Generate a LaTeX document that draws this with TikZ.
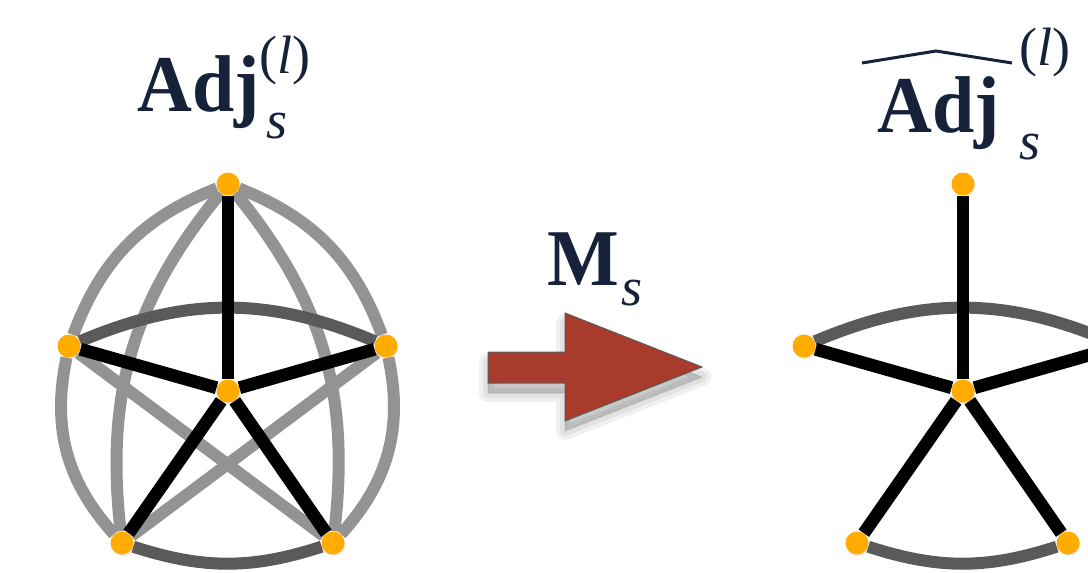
\documentclass[tikz,border=0pt]{standalone}
\usepackage{fontspec}
\setmainfont{Liberation Serif}
\usepackage{xcolor}
\definecolor{vertex}{HTML}{FFAB00}
\definecolor{lightedge}{HTML}{939393}
\definecolor{darkedge}{HTML}{5A5A5A}
\definecolor{navy}{HTML}{16213A}
\definecolor{maskred}{HTML}{A93B2C}
\usepackage{tikz}
\usetikzlibrary{shadows, backgrounds}
\newcommand{\scr}[1]{{\fontsize{27}{27}\selectfont #1}}
\newcommand{\tallbf}[1]{\scalebox{1}[1.06]{\textbf{#1}}}

\begin{document}
\begin{tikzpicture}[x=0.5pt, y=-0.5pt,
      vtx/.style={circle, fill=vertex, minimum size=11.5pt, inner sep=0pt,
                  drop shadow={opacity=0.18, shadow xshift=0.5pt, shadow yshift=-0.8pt}},
      spoke/.style={draw=black, line width=6.4pt},
      outer/.style={draw=lightedge, line width=6pt},
      rim/.style={draw=darkedge, line width=6pt},
      lbl/.style={text=navy, font=\fontsize{38}{40}\selectfont, inner sep=0pt, anchor=base west},
      maskpath/.style={insert path={(488,352) -- (565,352) -- (565,313) -- (702,367) -- (565,421) -- (565,383) -- (488,383) -- cycle}},
      haze/.style={fill=black, draw=black, opacity=0.06, line join=round, yshift=-5pt},
      mask/.style={fill=maskred, draw=darkedge, line width=0.5pt},
    ]
    \clip (0,0) rectangle (1088,573);

    \node[lbl] (adj)  at (137,111) {\tallbf{Adj}\rlap{\raisebox{19pt}{\scr{(\textit{l})}}}\kern3.5pt\raisebox{-13.5pt}{\scr{\textit{s}}}};
    \node[lbl] (ms)   at (547,285) {\tallbf{M}\kern1pt\raisebox{-10pt}{\scr{\textit{s}}}};
    \node[lbl] (adjh) at (877,132) {\tallbf{Adj}\kern10pt\rlap{\raisebox{33.5pt}{\scr{(\textit{l})}}}\raisebox{-13.5pt}{\scr{\textit{s}}}};
    \draw[navy, line width=1.5pt] (862,63) -- (936,51) -- (1012,63);

    \node[vtx] (lt)  at (228,184) {};
    \node[vtx] (ll)  at (69,346)  {};
    \node[vtx] (lr)  at (386,346) {};
    \node[vtx] (lc)  at (228,391) {};
    \node[vtx] (lbl) at (122,543) {};
    \node[vtx] (lbr) at (333,543) {};

    \node[vtx] (rt)  at (963,184)  {};
    \node[vtx] (rl)  at (804,346)  {};
    \node[vtx] (rr)  at (1121,346) {};
    \node[vtx] (rc)  at (963,391)  {};
    \node[vtx] (rbl) at (857,543)  {};
    \node[vtx] (rbr) at (1068,543) {};

    \path[haze, line width=9pt, maskpath];
    \path[haze, line width=5pt, maskpath];
    \path[haze, line width=1pt, maskpath];
    \path[mask, maskpath];

    \begin{scope}[on background layer]
      \draw[outer] (lt) to[bend right=24] (ll);
      \draw[outer] (lt) to[bend left=24] (lr);
      \draw[outer] (ll) to[bend right=27] (lbl);
      \draw[outer] (lr) to[bend left=27] (lbr);
      \draw[outer] (lt) to[bend right=23] (lbl);
      \draw[outer] (lt) to[bend left=23] (lbr);
      \draw[outer] (ll) -- (lbr);
      \draw[outer] (lr) -- (lbl);
      \draw[rim] (ll) to[bend left=23] (lr);
      \draw[rim] (lbl) to[bend right=18] (lbr);
      \draw[spoke] (lc) -- (lt);
      \draw[spoke] (lc) -- (ll);
      \draw[spoke] (lc) -- (lr);
      \draw[spoke] (lc) -- (lbl);
      \draw[spoke] (lc) -- (lbr);

      \draw[rim] (rl) to[bend left=23] (rr);
      \draw[rim] (rbl) to[bend right=18] (rbr);
      \draw[spoke] (rc) -- (rt);
      \draw[spoke] (rc) -- (rl);
      \draw[spoke] (rc) -- (rr);
      \draw[spoke] (rc) -- (rbl);
      \draw[spoke] (rc) -- (rbr);
    \end{scope}
  \end{tikzpicture}
\end{document}
